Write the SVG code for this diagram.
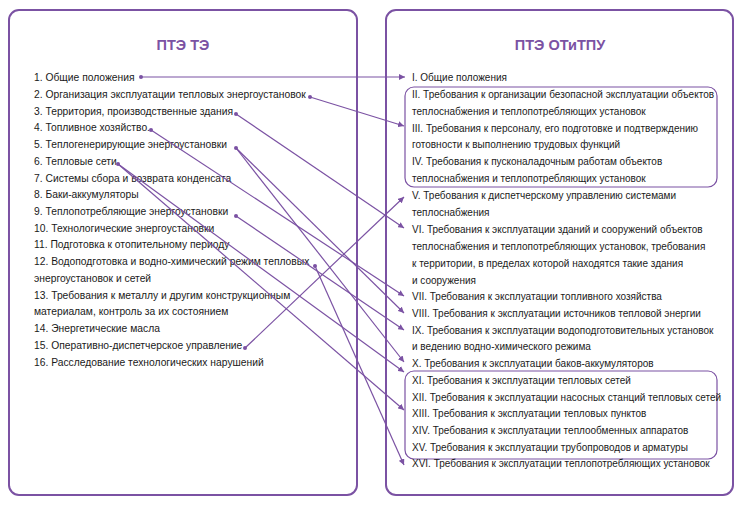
<svg xmlns="http://www.w3.org/2000/svg" width="742" height="505" viewBox="0 0 742 505">
<style>
.box{fill:none;stroke:#7b52a3;stroke-width:2}
.sub{fill:none;stroke:#7b52a3;stroke-width:1.2}
.t{font-family:"Liberation Sans",Arial,sans-serif;font-size:10px;fill:#1a1a1a;letter-spacing:0px}
.l{font-size:10.3px}
.h{font-family:"Liberation Sans",Arial,sans-serif;font-size:14.5px;font-weight:bold;fill:#7b52a3;text-anchor:middle}
.c{stroke:#7b52a3;stroke-width:1.2;fill:none;marker-end:url(#a)}
.d{fill:#7b52a3}
</style>
<defs><marker id="a" viewBox="0 0 10 10" refX="10" refY="5" markerWidth="6" markerHeight="6" markerUnits="userSpaceOnUse" orient="auto"><path d="M0,0L10,5L0,10z" fill="#7b52a3"/></marker></defs>
<g id="left">
<rect class="box" x="9" y="10" width="348" height="485" rx="10"/>
<text class="h" x="183" y="50">ПТЭ ТЭ</text>
<text class="t l" x="34" y="81">1. Общие положения</text>
<text class="t l" x="34" y="98">2. Организация эксплуатации тепловых энергоустановок</text>
<text class="t l" x="34" y="115">3. Территория, производственные здания</text>
<text class="t l" x="34" y="131">4. Топливное хозяйство.</text>
<text class="t l" x="34" y="148">5. Теплогенерирующие энергоустановки</text>
<text class="t l" x="34" y="165">6. Тепловые сети</text>
<text class="t l" x="34" y="182">7. Системы сбора и возврата конденсата</text>
<text class="t l" x="34" y="198">8. Баки-аккумуляторы</text>
<text class="t l" x="34" y="215">9. Теплопотребляющие энергоустановки</text>
<text class="t l" x="34" y="232">10. Технологические энергоустановки</text>
<text class="t l" x="34" y="248">11. Подготовка к отопительному периоду</text>
<text class="t l" x="34" y="265">12. Водоподготовка и водно-химический режим тепловых</text>
<text class="t l" x="34" y="282">энергоустановок и сетей</text>
<text class="t l" x="34" y="299">13. Требования к металлу и другим конструкционным</text>
<text class="t l" x="34" y="315">материалам, контроль за их состоянием</text>
<text class="t l" x="34" y="332">14. Энергетические масла</text>
<text class="t l" x="34" y="349">15. Оперативно-диспетчерское управление</text>
<text class="t l" x="34" y="366">16. Расследование технологических нарушений</text>
</g>
<g id="right">
<rect class="box" x="386" y="10" width="347" height="485" rx="10"/>
<text class="h" x="560" y="50">ПТЭ ОТиТПУ</text>
<rect class="sub" x="405" y="87" width="312" height="100" rx="9"/>
<rect class="sub" x="405" y="371" width="312" height="88" rx="9"/>
<text class="t" x="412" y="81">I. Общие положения</text>
<text class="t" x="412" y="98">II. Требования к организации безопасной эксплуатации объектов</text>
<text class="t" x="412" y="115">теплоснабжения и теплопотребляющих установок</text>
<text class="t" x="412" y="132">III. Требования к персоналу, его подготовке и подтверждению</text>
<text class="t" x="412" y="148">готовности к выполнению трудовых функций</text>
<text class="t" x="412" y="165">IV. Требования к пусконаладочным работам объектов</text>
<text class="t" x="412" y="182">теплоснабжения и теплопотребляющих установок</text>
<text class="t" x="412" y="199">V. Требования к диспетчерскому управлению системами</text>
<text class="t" x="412" y="216">теплоснабжения</text>
<text class="t" x="412" y="233">VI. Требования к эксплуатации зданий и сооружений объектов</text>
<text class="t" x="412" y="250">теплоснабжения и теплопотребляющих установок, требования</text>
<text class="t" x="412" y="267">к территории, в пределах которой находятся такие здания</text>
<text class="t" x="412" y="284">и сооружения</text>
<text class="t" x="412" y="300">VII. Требования к эксплуатации топливного хозяйства</text>
<text class="t" x="412" y="317">VIII. Требования к эксплуатации источников тепловой энергии</text>
<text class="t" x="412" y="334">IX. Требования к эксплуатации водоподготовительных установок</text>
<text class="t" x="412" y="350">и ведению водно-химического режима</text>
<text class="t" x="412" y="367">X. Требования к эксплуатации баков-аккумуляторов</text>
<text class="t" x="412" y="384">XI. Требования к эксплуатации тепловых сетей</text>
<text class="t" x="412" y="401">XII. Требования к эксплуатации насосных станций тепловых сетей</text>
<text class="t" x="412" y="417">XIII. Требования к эксплуатации тепловых пунктов</text>
<text class="t" x="412" y="434">XIV. Требования к эксплуатации теплообменных аппаратов</text>
<text class="t" x="412" y="451">XV. Требования к эксплуатации трубопроводов и арматуры</text>
<text class="t" x="412" y="467">XVI. Требования к эксплуатации теплопотребляющих установок</text>
</g>
<g id="connectors">
<circle class="d" cx="141" cy="77" r="2"/><path class="c" d="M141,77L405,77"/>
<circle class="d" cx="310" cy="97" r="2"/><path class="c" d="M310,97L404,126"/>
<circle class="d" cx="236" cy="114" r="2"/><path class="c" d="M236,114L404,228"/>
<circle class="d" cx="151" cy="130" r="2"/><path class="c" d="M151,130L404,296"/>
<circle class="d" cx="236" cy="148" r="2"/><path class="c" d="M236,148L404,313"/><path class="c" d="M236,148L404,362"/>
<circle class="d" cx="118" cy="164" r="2"/><path class="c" d="M118,164L404,372"/><path class="c" d="M118,164L404,410"/>
<circle class="d" cx="236" cy="216" r="2"/><path class="c" d="M236,216L404,330"/>
<circle class="d" cx="315" cy="266" r="2"/><path class="c" d="M315,266L404,465"/>
<circle class="d" cx="245" cy="348" r="2"/><path class="c" d="M245,348L404,197"/>
</g>
</svg>
